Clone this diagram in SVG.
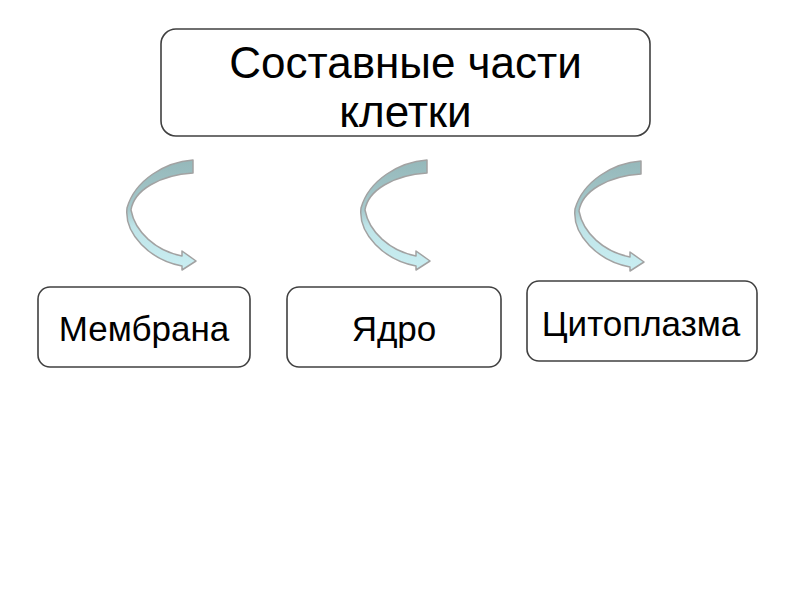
<svg xmlns="http://www.w3.org/2000/svg" width="800" height="600" viewBox="0 0 800 600">
  <style>
    .box { fill: #ffffff; stroke: #404040; stroke-width: 1.6; }
    .lbl { font-family: "Liberation Sans", Arial, sans-serif; fill: #000000; text-anchor: middle; }
    .arrow { fill: url(#arrowGrad); stroke: #a2a2a2; stroke-width: 1.5; stroke-linejoin: round; }
  </style>
  <defs>
    <linearGradient id="arrowGrad" x1="0" y1="0" x2="0" y2="1">
      <stop offset="0" stop-color="#95b8ba"/>
      <stop offset="0.45" stop-color="#a6c9cc"/>
      <stop offset="0.6" stop-color="#bfe4e8"/>
      <stop offset="1" stop-color="#c9eef2"/>
    </linearGradient>
    <path id="curvedArrow" d="M193,160 C165,162 135,180 127,208 C124,234 150,260 182,266 L182,270 L196,261 L182,251 L182,256 C156,251 135,232 131,210 C134,190 160,175 193,173 Z"/>
  </defs>
  <rect width="800" height="600" fill="#ffffff"/>

  <g id="connectors">
    <use href="#curvedArrow" class="arrow"/>
    <use href="#curvedArrow" class="arrow" transform="translate(234,0)"/>
    <use href="#curvedArrow" class="arrow" transform="translate(448,1)"/>
  </g>

  <g id="node-root">
    <rect class="box" x="161" y="29" width="489" height="107" rx="15"/>
    <text class="lbl" x="405.5" y="78" font-size="44">Составные части</text>
    <text class="lbl" x="405.5" y="127" font-size="44">клетки</text>
  </g>

  <g id="node-membrane">
    <rect class="box" x="38" y="287" width="212" height="80" rx="12"/>
    <text class="lbl" x="144" y="341" font-size="35">Мембрана</text>
  </g>

  <g id="node-nucleus">
    <rect class="box" x="287" y="287" width="214" height="80" rx="12"/>
    <text class="lbl" x="394" y="341" font-size="35">Ядро</text>
  </g>

  <g id="node-cytoplasm">
    <rect class="box" x="527" y="281" width="230" height="80" rx="12"/>
    <text class="lbl" x="641" y="336" font-size="35">Цитоплазма</text>
  </g>
</svg>
